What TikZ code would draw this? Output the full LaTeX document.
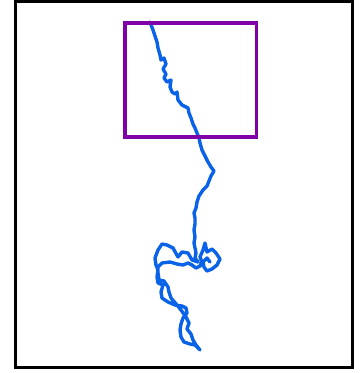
\documentclass[tikz,border=0pt]{standalone}
\usepackage{tikz}

\begin{document}
\begin{tikzpicture}[x=1pt, y=-1pt]
% --- MOLDURA, ZOOM E TRAJETORIA ---
\definecolor{moldura}{HTML}{000000}
\definecolor{janela}{HTML}{8000A8}
\definecolor{trilha}{HTML}{0A62E8}
\tikzset{
  caixa/.style={line width=3pt, draw=moldura},
  zoombox/.style={line width=3.6pt, draw=janela},
  caminho/.style={line width=3.4pt, draw=trilha, line join=round, line cap=round}
}
\useasboundingbox (0,0) rectangle (360,373);

% LAYER 1: Moldura externa
\draw[caixa] (15,1.8) rectangle (352,367.2);

% LAYER 2: Trajetoria (parte de cima)
\draw[caminho] (150,22) -- (153,30) -- (155,36) -- (157,42) -- (158,48) -- (160,55)
  -- (161,60) -- (164,58) -- (166,64) -- (163,69) -- (166,74) -- (164,78)
  -- (167,82) -- (171,80) -- (170,87) -- (172,92) -- (175,94) -- (177,92)
  -- (178,100) -- (182,105) -- (186,107) -- (188,108) -- (189,113) -- (191,118)
  -- (193,124) -- (195,128) -- (197,133) -- (199,138) -- (200,143) -- (202,150)
  -- (205,156) -- (208,162) -- (211,167) -- (214,171) -- (211,176) -- (209,181)
  -- (207,186) -- (203,190) -- (199,196) -- (197,202) -- (196,208) -- (194,213)
  -- (195,218) -- (195,224) -- (194,230) -- (195,237) -- (194,243) -- (195,248)
  -- (196,253) -- (195,258) -- (198,262)
% LAYER 3: Trajetoria (novelo de baixo)
  -- (192,260) -- (188,253) -- (182,252) -- (178,257) -- (173,248) -- (167,245)
  -- (162,244) -- (158,250) -- (155,258) -- (156,265) -- (158,270) -- (157,277)
  -- (158,283) -- (163,285) -- (161,292) -- (162,298) -- (168,302) -- (175,305)
  -- (182,306) -- (186,308) -- (187,313) -- (183,318) -- (181,324) -- (180,330)
  -- (181,337) -- (184,342) -- (190,344) -- (195,345) -- (200,350) -- (196,345)
  -- (193,340) -- (191,334) -- (187,329) -- (189,323) -- (186,317) -- (181,310)
  -- (177,305) -- (171,298) -- (169,292) -- (168,287) -- (164,281) -- (159,280)
  -- (158,273) -- (158,267) -- (162,263) -- (170,262) -- (177,264) -- (183,265)
  -- (188,263) -- (192,265) -- (196,268) -- (200,266) -- (202,262) -- (200,257)
  -- (203,250) -- (205,243) -- (207,252) -- (212,249) -- (216,253) -- (220,259)
  -- (217,265) -- (212,269) -- (207,271) -- (204,267) -- (203,262) -- (207,258)
  -- (210,262);

% LAYER 4: Janela de zoom
\draw[zoombox] (125,23) rectangle (256.5,137);
\end{tikzpicture}
\end{document}
